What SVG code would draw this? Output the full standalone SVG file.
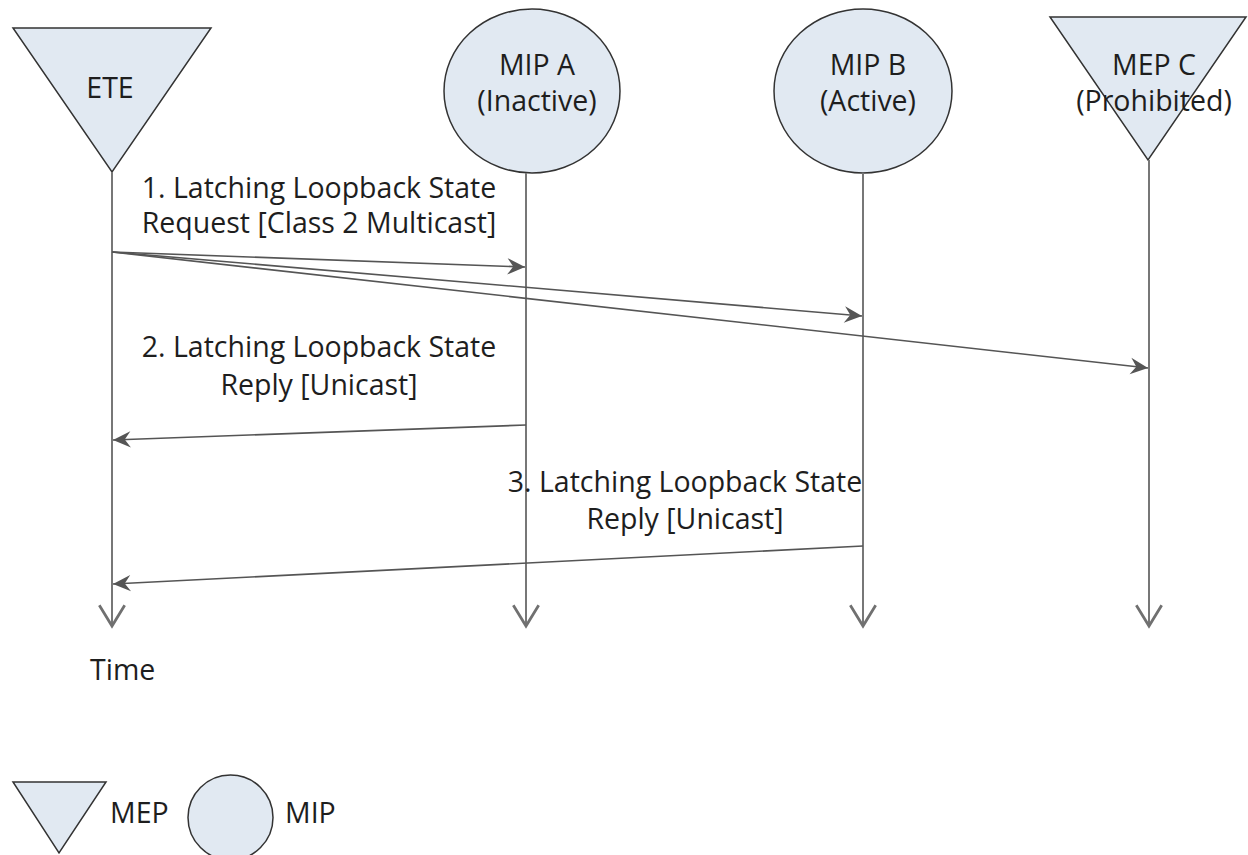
<svg xmlns="http://www.w3.org/2000/svg" width="1248" height="855" viewBox="0 0 1248 855">
<style>
.shape{fill:#e1e9f2;stroke:#333;stroke-width:1.5}
.t{font-family:"Open Sans","Liberation Sans",sans-serif;font-size:28.5px;fill:#1e1e1e;text-anchor:middle}
.life{stroke:#777;stroke-width:2;fill:none}
.msg{stroke:#555;stroke-width:1.6;fill:none}
</style>
<defs>
<marker id="chev" markerUnits="userSpaceOnUse" orient="auto" markerWidth="30" markerHeight="30" viewBox="-20 -13 22 26" refX="0" refY="0">
<path d="M-18,-11 L0,0 L-18,11" fill="none" stroke="#707070" stroke-width="2.4"/>
</marker>
<marker id="barb" markerUnits="userSpaceOnUse" orient="auto" markerWidth="20" markerHeight="20" viewBox="-16 -8 17 16" refX="0" refY="0">
<path d="M-15,-7 L0,0 L-15,7 L-10,0 z" fill="#555"/>
</marker>
</defs>

<g id="ETE">
<polygon class="shape" points="13,28 211,28 112,172"/>
<text class="t" x="110" y="98">ETE</text>
</g>
<g id="MIP_A">
<ellipse class="shape" cx="532" cy="91" rx="88" ry="82"/>
<text class="t" x="537" y="75">MIP A</text>
<text class="t" x="537" y="111">(Inactive)</text>
</g>
<g id="MIP_B">
<ellipse class="shape" cx="863" cy="91" rx="89" ry="82"/>
<text class="t" x="868" y="75">MIP B</text>
<text class="t" x="868" y="111">(Active)</text>
</g>
<g id="MEP_C">
<polygon class="shape" points="1050,17 1246,17 1148,160"/>
<text class="t" x="1154" y="75">MEP C</text>
<text class="t" x="1154" y="111">(Prohibited)</text>
</g>

<g id="connectors">
<line class="life" x1="112" y1="172" x2="112" y2="626" marker-end="url(#chev)"/>
<line class="life" x1="526" y1="173" x2="526" y2="626" marker-end="url(#chev)"/>
<line class="life" x1="863" y1="173" x2="863" y2="626" marker-end="url(#chev)"/>
<line class="life" x1="1149" y1="160" x2="1149" y2="626" marker-end="url(#chev)"/>
<line class="msg" x1="112" y1="252" x2="525" y2="267" marker-end="url(#barb)"/>
<line class="msg" x1="112" y1="252" x2="862" y2="316" marker-end="url(#barb)"/>
<line class="msg" x1="112" y1="252" x2="1148" y2="368" marker-end="url(#barb)"/>
<line class="msg" x1="526" y1="425" x2="113" y2="440" marker-end="url(#barb)"/>
<line class="msg" x1="863" y1="546" x2="113" y2="584" marker-end="url(#barb)"/>
</g>

<g id="labels">
<text class="t" x="319" y="198">1. Latching Loopback State</text>
<text class="t" x="319" y="233">Request [Class 2 Multicast]</text>
<text class="t" x="319" y="357">2. Latching Loopback State</text>
<text class="t" x="319" y="395">Reply [Unicast]</text>
<text class="t" x="685" y="492">3. Latching Loopback State</text>
<text class="t" x="685" y="529">Reply [Unicast]</text>
<text class="t" x="90" y="680" style="text-anchor:start">Time</text>
</g>

<g id="legend">
<polygon class="shape" points="13,782 106,782 59,853"/>
<text class="t" x="110" y="823" style="text-anchor:start">MEP</text>
<circle class="shape" cx="230.5" cy="817.5" r="42.5"/>
<text class="t" x="285" y="823" style="text-anchor:start">MIP</text>
</g>
</svg>
